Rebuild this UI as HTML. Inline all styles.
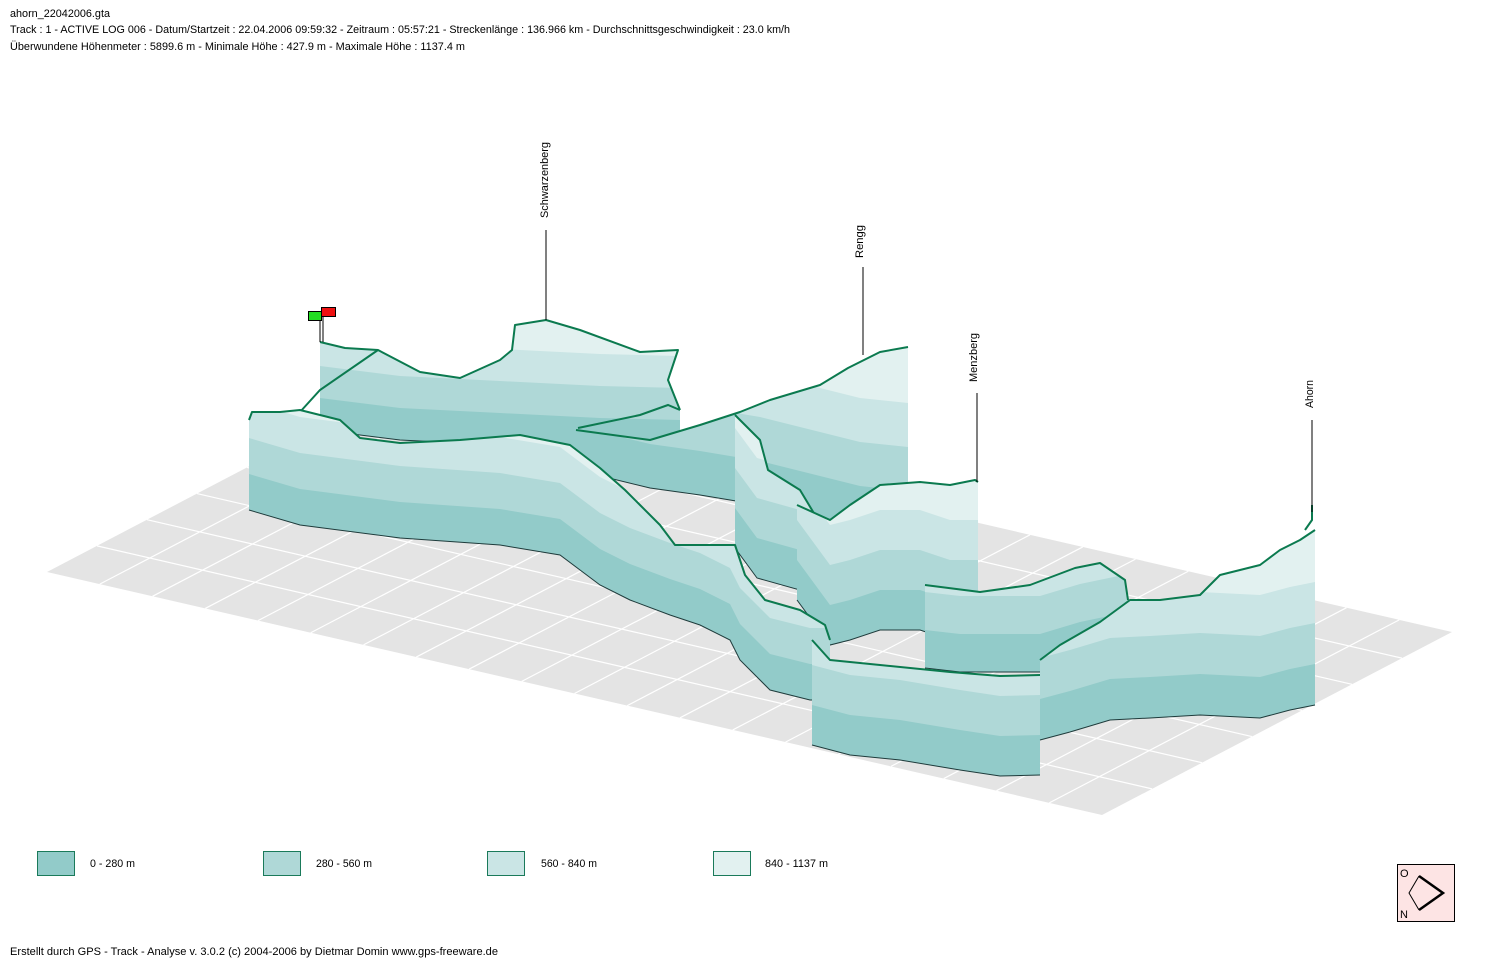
<!DOCTYPE html>
<html><head><meta charset="utf-8"><style>
html,body{margin:0;padding:0;background:#fff;}
svg{display:block;font-family:"Liberation Sans",sans-serif;}
</style></head><body>
<svg id="s" width="1496" height="964" viewBox="0 0 1496 964" xmlns="http://www.w3.org/2000/svg">
<text x="10" y="17" font-size="11" textLength="100" lengthAdjust="spacingAndGlyphs">ahorn_22042006.gta</text>
<text x="10" y="33" font-size="11" textLength="780" lengthAdjust="spacingAndGlyphs">Track : 1 - ACTIVE LOG 006 - Datum/Startzeit : 22.04.2006 09:59:32 - Zeitraum : 05:57:21 - Streckenlänge : 136.966 km - Durchschnittsgeschwindigkeit : 23.0 km/h</text>
<text x="10" y="50" font-size="11" textLength="455" lengthAdjust="spacingAndGlyphs">Überwundene Höhenmeter : 5899.6 m  -  Minimale Höhe : 427.9 m  -  Maximale Höhe : 1137.4 m</text>
<g id="grid"></g>
<g id="walls"></g>
<g font-size="11">
<text transform="translate(548,218) rotate(-90)" textLength="76" lengthAdjust="spacingAndGlyphs">Schwarzenberg</text>
<line x1="546" y1="230" x2="546" y2="320" stroke="#000"/>
<text transform="translate(863,258) rotate(-90)" textLength="33" lengthAdjust="spacingAndGlyphs">Rengg</text>
<line x1="863" y1="267" x2="863" y2="355" stroke="#000"/>
<text transform="translate(977,382) rotate(-90)" textLength="49" lengthAdjust="spacingAndGlyphs">Menzberg</text>
<line x1="977" y1="393" x2="977" y2="482" stroke="#000"/>
<text transform="translate(1313,408) rotate(-90)" textLength="28" lengthAdjust="spacingAndGlyphs">Ahorn</text>
<line x1="1312" y1="420" x2="1312" y2="512" stroke="#000"/>
</g>
<line x1="320" y1="318" x2="320" y2="342" stroke="#000"/>
<line x1="323" y1="314" x2="323" y2="342" stroke="#000"/>
<rect x="308.5" y="311.5" width="13" height="9" fill="#22dd22" stroke="#000"/>
<rect x="321.5" y="307.5" width="14" height="9" fill="#ee1111" stroke="#000"/>
<g font-size="11">
<rect x="37.5" y="851.5" width="37" height="24" fill="#92cbc9" stroke="#1a7a5a"/>
<text x="90" y="867" textLength="45" lengthAdjust="spacingAndGlyphs">0 - 280 m</text>
<rect x="263.5" y="851.5" width="37" height="24" fill="#afd8d7" stroke="#1a7a5a"/>
<text x="316" y="867" textLength="56" lengthAdjust="spacingAndGlyphs">280 - 560 m</text>
<rect x="487.5" y="851.5" width="37" height="24" fill="#cae5e5" stroke="#1a7a5a"/>
<text x="541" y="867" textLength="56" lengthAdjust="spacingAndGlyphs">560 - 840 m</text>
<rect x="713.5" y="851.5" width="37" height="24" fill="#e2f1f0" stroke="#1a7a5a"/>
<text x="765" y="867" textLength="63" lengthAdjust="spacingAndGlyphs">840 - 1137 m</text>
</g>
<text x="10" y="955" font-size="11" textLength="488" lengthAdjust="spacingAndGlyphs">Erstellt durch  GPS - Track - Analyse   v. 3.0.2   (c) 2004-2006 by Dietmar Domin  www.gps-freeware.de</text>
<rect x="1397.5" y="864.5" width="57" height="57" fill="#fde4e4" stroke="#000"/>
<text x="1400" y="877" font-size="11">O</text>
<text x="1400" y="918" font-size="11">N</text>
<polyline points="1419,876 1443,893 1419,910" fill="none" stroke="#000" stroke-width="2.5"/>
<polyline points="1419,876 1409,893 1419,910" fill="none" stroke="#000" stroke-width="1"/>
</svg>
<script>
var NS="http://www.w3.org/2000/svg";
function el(p,t,a){var e=document.createElementNS(NS,t);for(var k in a)e.setAttribute(k,a[k]);p.appendChild(e);return e;}
var g=document.getElementById("grid");
var L=[47,572],T=[397,389],R=[1452,632],B=[1102,815];
el(g,"polygon",{points:[L,T,R,B].map(function(p){return p.join(",")}).join(" "),fill:"#e4e4e4"});
var NL=20,NS2=7;
for(var i=1;i<NL;i++){var f=i/NL;
 var a=[L[0]+(B[0]-L[0])*f,L[1]+(B[1]-L[1])*f],b=[T[0]+(R[0]-T[0])*f,T[1]+(R[1]-T[1])*f];
 el(g,"line",{x1:a[0],y1:a[1],x2:b[0],y2:b[1],stroke:"#fff","stroke-width":1.2});}
for(var j=1;j<NS2;j++){var f=j/NS2;
 var a=[L[0]+(T[0]-L[0])*f,L[1]+(T[1]-L[1])*f],b=[B[0]+(R[0]-B[0])*f,B[1]+(R[1]-B[1])*f];
 el(g,"line",{x1:a[0],y1:a[1],x2:b[0],y2:b[1],stroke:"#fff","stroke-width":1.2});}
var C=["#92cbc9","#afd8d7","#cae5e5","#e2f1f0"];
var W=document.getElementById("walls"),cid=0;
function P(a){return a.map(function(p){return p[0]+","+p[1]}).join(" ");}
function wall(top,bot,t,greenTop){
 var poly=top.concat(bot.slice().reverse());
 var id="c"+(cid++);
 var cp=el(W,"clipPath",{id:id});el(cp,"polygon",{points:P(poly)});
 var gg=el(W,"g",{"clip-path":"url(#"+id+")"});
 el(gg,"polygon",{points:P(poly),fill:C[3]});
 for(var k=3;k>=1;k--){
  var up=bot.map(function(p){return [p[0],p[1]-k*t];});
  var ext=[[bot[0][0]-2,bot[0][1]+5]].concat(bot.map(function(p){return [p[0],p[1]+5]})).concat([[bot[bot.length-1][0]+2,bot[bot.length-1][1]+5]]);
  el(gg,"polygon",{points:P(ext.concat(up.slice().reverse())),fill:C[k-1]});
 }
 el(W,"polyline",{points:P(bot),fill:"none",stroke:"#1e3b3b","stroke-width":1});
 if(greenTop!==false)el(W,"polyline",{points:P(top),fill:"none",stroke:"#0b7a4f","stroke-width":2,"stroke-linejoin":"round"});
}
wall([[320,342],[345,348],[378,350],[420,372],[460,378],[500,360],[512,350],[515,325],[546,320],[580,330],[640,352],[678,350],[668,380],[680,410]],
     [[320,430],[400,440],[500,445],[600,450],[680,452]],32);
el(W,"polyline",{points:"300,412 320,390 378,350",fill:"none",stroke:"#0b7a4f","stroke-width":2});
el(W,"polyline",{points:"578,428 640,415 668,405 680,410",fill:"none",stroke:"#0b7a4f","stroke-width":2});
wall([[576,430],[650,440],[700,425],[740,412],[770,400],[820,385],[848,368],[880,352],[908,347]],
     [[576,470],[650,488],[700,495],[760,505],[820,520],[860,530],[908,535]],44);
wall([[735,415],[760,440],[768,470],[800,490],[815,515],[830,545]],
     [[735,548],[757,578],[800,590],[830,640]],40);
wall([[797,505],[830,520],[850,505],[880,485],[920,482],[950,485],[975,480],[978,482]],
     [[797,600],[830,645],[850,640],[880,630],[920,630],[950,640],[978,640]],40);
wall([[925,585],[980,592],[1030,585],[1075,568],[1100,563],[1125,580],[1128,600]],
     [[925,668],[960,672],[1000,672],[1040,672],[1080,660],[1128,650]],38);
wall([[249,420],[252,412],[280,412],[300,410],[340,420],[360,438],[400,443],[460,440],[520,435],[570,445],[600,468],[625,490],[640,505],[660,525],[675,545],[700,545],[735,545],[745,575],[765,600],[800,610],[825,625],[830,640]],
     [[249,510],[300,525],[400,538],[500,545],[560,555],[600,585],[630,600],[670,615],[700,625],[730,640],[740,660],[770,690],[810,700],[830,700]],36);
wall([[812,640],[830,660],[880,665],[950,672],[1000,676],[1040,675]],
     [[812,745],[850,755],[900,760],[960,770],[1000,776],[1040,775]],40);
wall([[1040,660],[1060,645],[1100,622],[1130,600],[1160,600],[1200,595],[1220,575],[1260,565],[1280,550],[1300,540],[1315,530]],
     [[1040,740],[1070,732],[1110,720],[1150,718],[1200,715],[1260,718],[1290,710],[1315,705]],41);
el(W,"polyline",{points:"1305,530 1312,520 1312,505",fill:"none",stroke:"#0b7a4f","stroke-width":2});
</script>
</body></html>
